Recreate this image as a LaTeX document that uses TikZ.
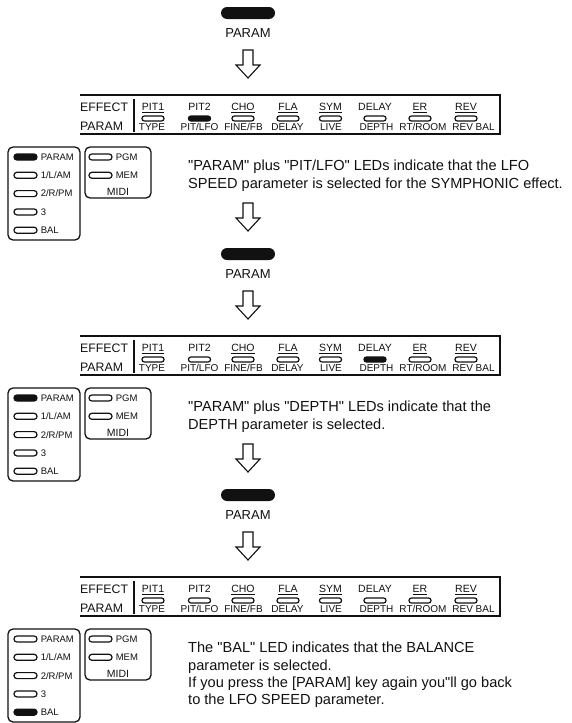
\documentclass[tikz,border=0pt]{standalone}
\usepackage{fontspec}
\setmainfont{Liberation Sans}[Ligatures=TeXOff]
\usetikzlibrary{positioning}
\definecolor{ink}{HTML}{111111}
\tikzset{
  key/.style={fill=ink,rounded corners=6pt,minimum width=54pt,minimum height=12pt,inner sep=0pt},
  keytext/.style={font=\fontsize{13}{13}\selectfont,text=ink,inner sep=0pt},
  rim/.style={draw=ink,line width=1.8pt},
  divider/.style={draw=ink,line width=1.1pt},
  holder/.style={draw=ink,line width=1.3pt,rounded corners=5pt,inner sep=0pt},
  led/.style={draw=ink,line width=1.2pt,rounded corners=2.4pt,minimum width=22pt,minimum height=5pt,inner sep=0pt},
  modeled/.style={led,minimum width=23pt,minimum height=6pt,rounded corners=2.9pt},
  caption/.style={font=\fontsize{12.3}{12.3}\selectfont,text=ink,inner sep=0pt,anchor=base west},
  tag/.style={font=\fontsize{10.5}{10.5}\selectfont,text=ink,inner sep=0pt,anchor=base},
  tagsm/.style={font=\fontsize{9.5}{9.5}\selectfont,text=ink,inner sep=0pt,anchor=west},
  note/.style={font=\fontsize{14.6}{17.4}\selectfont,text=ink,inner sep=0pt,align=left,anchor=north west},
  stepdown/.pic={\draw[ink,line width=1.1pt] (-5,0) -- (5,0) -- (5,15) -- (12,15) -- (0,28) -- (-12,15) -- (-5,15) -- cycle;}
}

\begin{document}
\begin{tikzpicture}[x=1pt,y=-1pt]
\useasboundingbox (0,0) rectangle (571,723);
\foreach \stage/\lit/\sel/\txt in {
  0/2/1/{"PARAM" plus "PIT/LFO" LEDs indicate that the LFO\\SPEED parameter is selected for the SYMPHONIC effect.},
  1/6/1/{"PARAM" plus "DEPTH" LEDs indicate that the\\DEPTH parameter is selected.},
  2/0/5/{The "BAL" LED indicates that the BALANCE\\parameter is selected.\\If you press the [PARAM] key again you"ll go back\\to the LFO SPEED parameter.}}{
  \begin{scope}[yshift={-241pt*\stage}]
    % key press
    \node[key] (key\stage) at (248,13) {};
    \node[keytext,below=9pt of key\stage] (keylbl\stage) {PARAM};
    \pic at (248,50) {stepdown};
    % effect strip
    \draw[rim] (80,95) -- (500,95) -- (500,134) -- (80,134);
    \draw[divider] (134,99) -- (134,132);
    \node[caption] (eff\stage) at (80,111.5) {EFFECT};
    \node[caption] (par\stage) at (80,130.5) {PARAM};
    \foreach \col/\x/\bx/\toptxt/\bottxt in {1/153/152/\underline{PIT1}/TYPE,2/199.5/199.5/PIT2/{PIT/LFO},
        3/243/243.5/\underline{CHO}/{FINE/FB},4/288/287.5/\underline{FLA}/DELAY,5/330.5/331/\underline{SYM}/LIVE,
        6/375/376.5/DELAY/DEPTH,7/420/423/\underline{ER}/{RT/ROOM},8/466/473.5/\underline{REV}/REV BAL}{
      \ifnum\col=\lit\def\ledfill{ink}\else\def\ledfill{white}\fi
      \node[tag] (fx\stage-\col) at (\x,110.5) {\toptxt};
      \node[led,fill=\ledfill] (fxled\stage-\col) at (\x,118.5) {};
      \node[tag,font=\fontsize{10}{10}\selectfont] (fxpar\stage-\col) at (\bx,130.5) {\bottxt};
    }
    % mode keys
    \node[holder,minimum width=72pt,minimum height=93pt] (modes\stage) at (44,193.5) {};
    \foreach \r/\lab in {1/PARAM,2/{1/L/AM},3/{2/R/PM},4/3,5/BAL}{
      \ifnum\r=\sel\def\ledfill{ink}\else\def\ledfill{white}\fi
      \node[modeled,fill=\ledfill] (mode\stage-\r) at (25.5,{157+18.3*(\r-1)}) {};
      \node[tagsm,right=3pt of mode\stage-\r] (modelbl\stage-\r) {\lab};
    }
    % midi keys
    \node[holder,minimum width=66pt,minimum height=51pt] (midi\stage) at (118,172.5) {};
    \node[modeled] (pgm\stage) at (100.5,157) {};
    \node[tagsm,right=3pt of pgm\stage] (pgmlbl\stage) {PGM};
    \node[modeled] (mem\stage) at (100.5,175.3) {};
    \node[tagsm,right=3pt of mem\stage] (memlbl\stage) {MEM};
    \node[tag,font=\fontsize{10.5}{10.5}\selectfont] (midilbl\stage) at (118,195) {MIDI};
    \node[note] (note\stage) at (188,160) {\txt};
    \ifnum\stage<2 \pic at (248,203) {stepdown}; \fi
  \end{scope}
}
\end{tikzpicture}
\end{document}
